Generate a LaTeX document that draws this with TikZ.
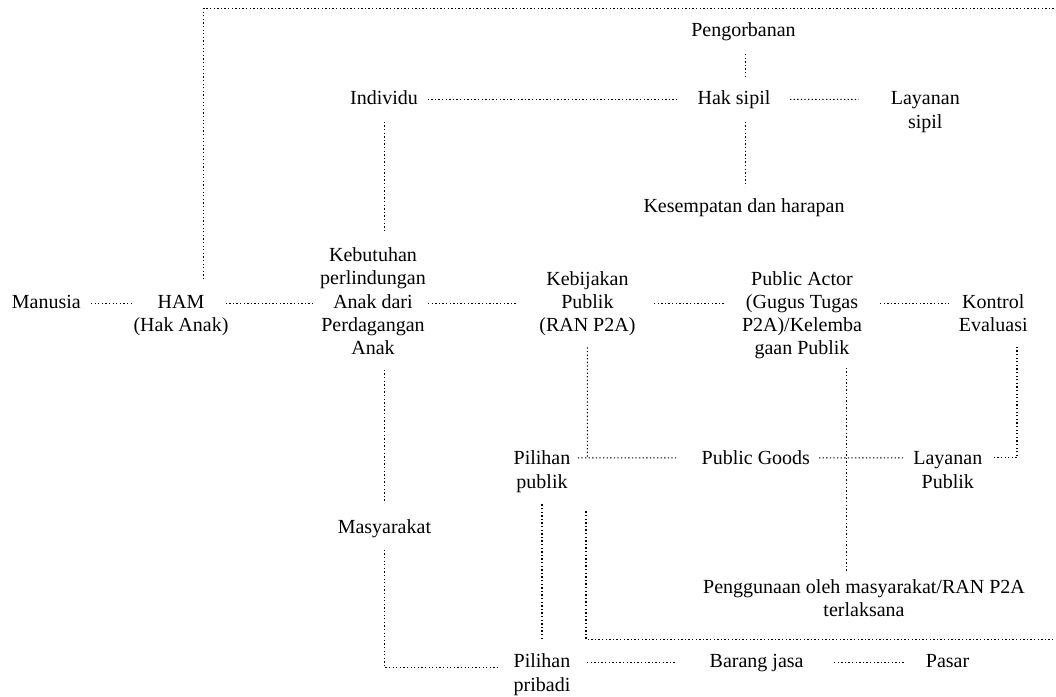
\documentclass[tikz,border=0pt]{standalone}
\usepackage{fontspec}
\setmainfont{Liberation Serif}
\usetikzlibrary{calc}

\tikzset{
  lbl/.style={font=\fontsize{20}{23.2}\selectfont, align=center, anchor=base, inner sep=0pt},
  link/.style={line width=1.1pt, dash pattern=on 1.3pt off 2.3pt},
}

\begin{document}
\begin{tikzpicture}[x=1pt, y=-1pt]
  \useasboundingbox (0,0) rectangle (1056,696);

  % concepts (placed by the baseline of their last line)
  \node[lbl] (manusia)      at (46.3,308.3)  {Manusia};
  \node[lbl] (ham)          at (181,331.3)   {HAM\\(Hak Anak)};
  \node[lbl] (kebutuhan)    at (373,354.5)   {Kebutuhan\\perlindungan\\Anak dari\\Perdagangan\\Anak};
  \node[lbl] (kebijakan)    at (587.4,331.5) {Kebijakan\\Publik\\(RAN P2A)};
  \node[lbl] (actor)        at (802,354.7)   {Public Actor\\(Gugus Tugas\\P2A)/Kelemba\\gaan Publik};
  \node[lbl] (kontrol)      at (993.2,331.3) {Kontrol\\Evaluasi};
  \node[lbl] (pengorbanan)  at (743.5,36.6)  {Pengorbanan};
  \node[lbl] (individu)     at (384,104.9)   {Individu};
  \node[lbl] (haksipil)     at (734,104.9)   {Hak sipil};
  \node[lbl] (layanansipil) at (925.3,128.1) {Layanan\\sipil};
  \node[lbl] (kesempatan)   at (744,212.7)   {Kesempatan dan harapan};
  \node[lbl] (masyarakat)   at (384.4,533.1) {Masyarakat};
  \node[lbl] (pilpublik)    at (542,488)     {Pilihan\\publik};
  \node[lbl] (goods)        at (755.8,464.8) {Public Goods};
  \node[lbl] (laypublik)    at (947.8,488)   {Layanan\\Publik};
  \node[lbl] (penggunaan)   at (864,616.2)   {Penggunaan oleh masyarakat/RAN P2A\\terlaksana};
  \node[lbl] (pilpribadi)   at (542,691)     {Pilihan\\pribadi};
  \node[lbl] (barang)       at (756.6,667.8) {Barang jasa};
  \node[lbl] (pasar)        at (947.6,667.8) {Pasar};

  % open ends running off the right edge
  \coordinate (frameend)  at (1056,8.3);
  \coordinate (rightexit) at (1056,639.4);

  % main row
  \draw[link] ($(manusia.base)+(44.6,-5)$)      -- ($(ham.base)+(-48,-28)$);
  \draw[link] ($(ham.base)+(44.6,-28)$)         -- ($(kebutuhan.base)+(-59.2,-51.2)$);
  \draw[link] ($(kebutuhan.base)+(55,-51.2)$)   -- ($(kebijakan.base)+(-70.6,-28.2)$);
  \draw[link] ($(kebijakan.base)+(66.6,-28.2)$) -- ($(actor.base)+(-78,-51.4)$);
  \draw[link] ($(actor.base)+(78,-51.4)$)       -- ($(kontrol.base)+(-44.2,-28)$);

  % upper block
  \draw[link] ($(individu.base)+(43.6,-5.6)$)   -- ($(haksipil.base)+(-56.2,-5.6)$);
  \draw[link] ($(haksipil.base)+(56,-5.6)$)     -- ($(layanansipil.base)+(-66.7,-28.8)$);
  \draw[link] ($(pengorbanan.base)+(1.7,17.4)$) -- ($(haksipil.base)+(11.2,-27.7)$);
  \draw[link] ($(haksipil.base)+(11.2,16.9)$)   -- ($(kesempatan.base)+(1.2,-26.1)$);
  \draw[link] ($(individu.base)+(0.2,16.9)$)    -- ($(kebutuhan.base)+(11.2,-122.8)$);
  \draw[link] ($(ham.base)+(22.7,-52.1)$)       |- (frameend);

  % lower block
  \draw[link] ($(kebutuhan.base)+(11.2,15.3)$)  -- ($(masyarakat.base)+(-0.2,-30.1)$);
  \draw[link] ($(masyarakat.base)+(-0.2,16.6)$) |- ($(pilpribadi.base)+(-44.4,-23.6)$);
  \draw[link] ($(pilpublik.base)+(35.8,-30.1)$) -- ($(goods.base)+(-79.8,-6.9)$);
  \draw[link] ($(kebijakan.base)+(-0.1,15.8)$)  -- ($(pilpublik.base)+(45.3,-30.1)$);
  \draw[link] ($(goods.base)+(63.2,-6.9)$)      -- ($(laypublik.base)+(-44.8,-30.1)$);
  \draw[link] ($(actor.base)+(44.2,13.1)$)      -- ($(penggunaan.base)+(-17.8,-44.9)$);
  \draw[link] ($(laypublik.base)+(45.9,-30.1)$) -| ($(kontrol.base)+(23.8,16)$);
  \draw[link] ($(pilpublik.base)+(0,16.4)$)     -- ($(pilpribadi.base)+(0,-53.1)$);
  \draw[link] ($(pilpublik.base)+(44,23.4)$)    |- (rightexit);
  \draw[link] ($(pilpribadi.base)+(45,-28.2)$)  -- ($(barang.base)+(-81.1,-5)$);
  \draw[link] ($(barang.base)+(77.4,-5)$)       -- ($(pasar.base)+(-43.2,-5)$);
\end{tikzpicture}
\end{document}
